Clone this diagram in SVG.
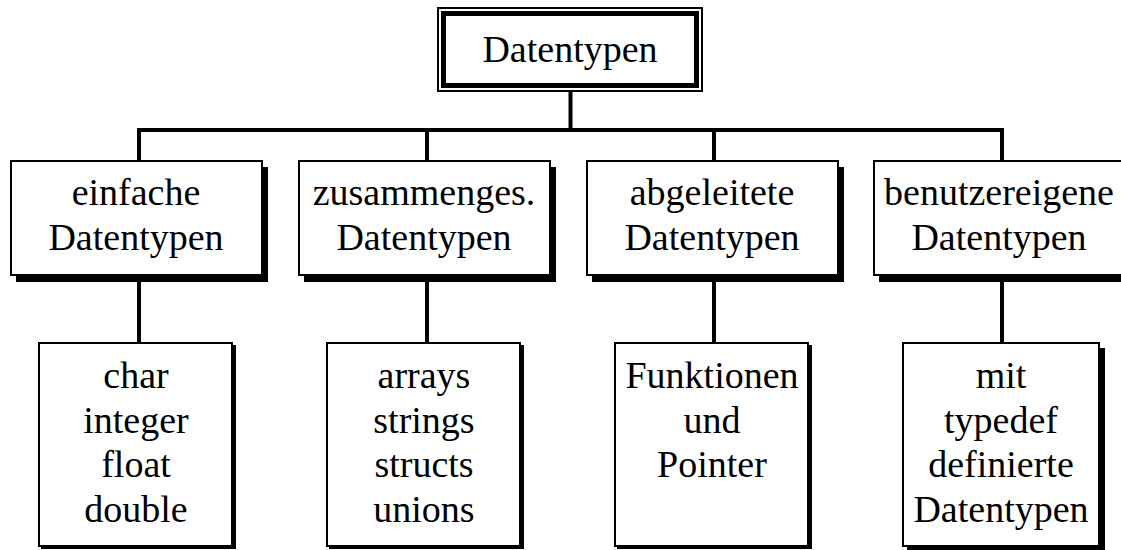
<svg xmlns="http://www.w3.org/2000/svg" width="1121" height="550" viewBox="0 0 1121 550">
  <style>
    .box { fill: #fff; stroke: #000; stroke-width: 2; }
    .shadow { fill: #000; }
    .lbl { font-family: "Liberation Serif", "Times New Roman", serif; font-size: 38px; fill: #000; text-anchor: middle; }
    .conn { stroke: #000; stroke-width: 4; fill: none; }
  </style>
  <rect width="1121" height="550" fill="#fff"/>

  <!-- connectors -->
  <g id="connectors">
    <line class="conn" x1="570.5" y1="92" x2="570.5" y2="130"/>
    <line class="conn" x1="137" y1="130" x2="1004" y2="130"/>
    <line class="conn" x1="139" y1="130" x2="139" y2="160"/>
    <line class="conn" x1="427" y1="130" x2="427" y2="160"/>
    <line class="conn" x1="714" y1="130" x2="714" y2="160"/>
    <line class="conn" x1="1002" y1="130" x2="1002" y2="160"/>
    <line class="conn" x1="139" y1="280" x2="139" y2="342"/>
    <line class="conn" x1="427" y1="280" x2="427" y2="342"/>
    <line class="conn" x1="714" y1="280" x2="714" y2="342"/>
    <line class="conn" x1="1002" y1="280" x2="1002" y2="342"/>
  </g>

  <!-- root node with double frame -->
  <g id="root">
    <rect x="438" y="8" width="264" height="83" fill="#fff" stroke="#000" stroke-width="2"/>
    <rect x="443.5" y="13.5" width="253" height="72" fill="#fff" stroke="#000" stroke-width="5"/>
    <text class="lbl" x="570" y="62">Datentypen</text>
  </g>

  <!-- category nodes -->
  <g id="einfache">
    <rect class="shadow" x="16" y="167" width="252" height="115"/>
    <rect class="box" x="11" y="161" width="251" height="114"/>
    <text class="lbl" x="136" y="205">einfache</text>
    <text class="lbl" x="136" y="250">Datentypen</text>
  </g>
  <g id="zusammengesetzte">
    <rect class="shadow" x="304" y="167" width="252" height="115"/>
    <rect class="box" x="299" y="161" width="251" height="114"/>
    <text class="lbl" x="424" y="205">zusammenges.</text>
    <text class="lbl" x="424" y="250">Datentypen</text>
  </g>
  <g id="abgeleitete">
    <rect class="shadow" x="592" y="167" width="252" height="115"/>
    <rect class="box" x="587" y="161" width="251" height="114"/>
    <text class="lbl" x="712" y="205">abgeleitete</text>
    <text class="lbl" x="712" y="250">Datentypen</text>
  </g>
  <g id="benutzereigene">
    <rect class="shadow" x="879" y="167" width="252" height="115"/>
    <rect class="box" x="874" y="161" width="251" height="114"/>
    <text class="lbl" x="999" y="205">benutzereigene</text>
    <text class="lbl" x="999" y="250">Datentypen</text>
  </g>

  <!-- leaf nodes -->
  <g id="einfache-liste">
    <rect class="shadow" x="41" y="345" width="195" height="204"/>
    <rect class="box" x="39" y="343" width="193" height="203"/>
    <text class="lbl" x="136" y="388">char</text>
    <text class="lbl" x="136" y="433">integer</text>
    <text class="lbl" x="136" y="477">float</text>
    <text class="lbl" x="136" y="522">double</text>
  </g>
  <g id="zusammengesetzte-liste">
    <rect class="shadow" x="329" y="345" width="195" height="204"/>
    <rect class="box" x="327" y="343" width="193" height="203"/>
    <text class="lbl" x="424" y="388">arrays</text>
    <text class="lbl" x="424" y="433">strings</text>
    <text class="lbl" x="424" y="477">structs</text>
    <text class="lbl" x="424" y="522">unions</text>
  </g>
  <g id="abgeleitete-liste">
    <rect class="shadow" x="617" y="345" width="195" height="204"/>
    <rect class="box" x="615" y="343" width="193" height="203"/>
    <text class="lbl" x="712" y="388">Funktionen</text>
    <text class="lbl" x="712" y="433">und</text>
    <text class="lbl" x="712" y="477">Pointer</text>
  </g>
  <g id="benutzereigene-liste">
    <rect class="shadow" x="907" y="348" width="198" height="204"/>
    <rect class="box" x="903" y="343" width="196" height="203"/>
    <text class="lbl" x="1001" y="388">mit</text>
    <text class="lbl" x="1001" y="433">typedef</text>
    <text class="lbl" x="1001" y="477">definierte</text>
    <text class="lbl" x="1001" y="522">Datentypen</text>
  </g>
</svg>
